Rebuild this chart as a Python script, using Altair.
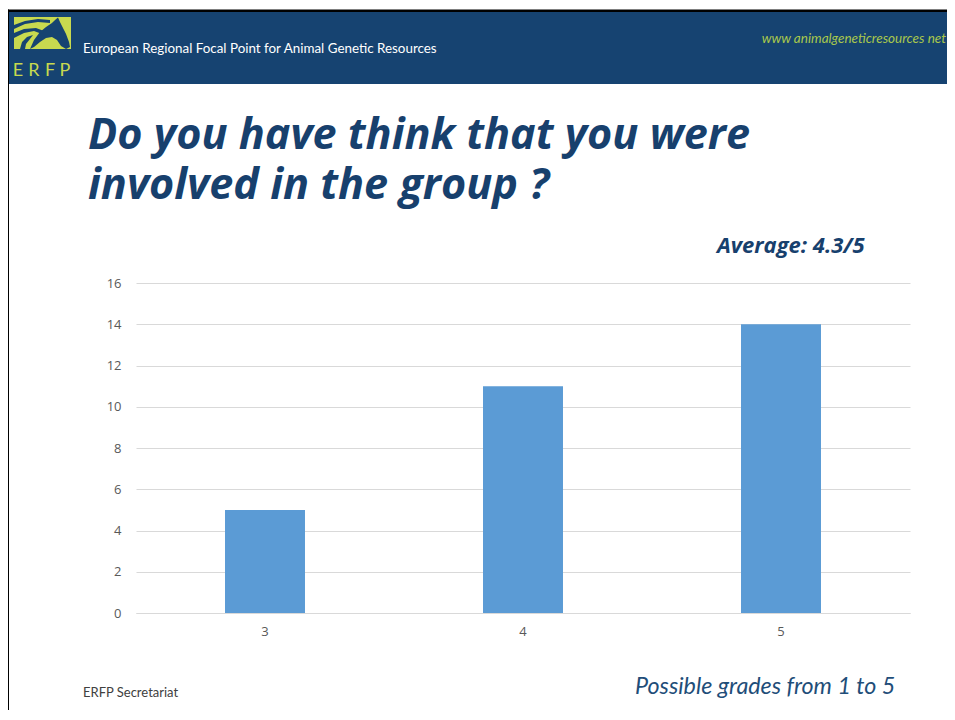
import altair as alt
import pandas as pd

grades = ["3", "4", "5"]
counts = [5, 11, 14]
y_ticks = [0, 2, 4, 6, 8, 10, 12, 14, 16]

title_lines = ["Do you have think that you were", "involved in the group ?"]
header_text = "European Regional Focal Point for Animal Genetic Resources"
url_text = "www animalgeneticresources net"
average_text = "Average: 4.3/5"
note_text = "Possible grades from 1 to 5"
footer_text = "ERFP Secretariat"
logo_letters = ["E", "R", "F", "P"]

W, H = 774, 330
X0, Y0 = 136, 283  # page position of plot origin

def px(v):
    return v - X0

def py(v):
    return v - Y0

df = pd.DataFrame({"grade": grades, "count": counts})
one = alt.Data(values=[{}])

bars = alt.Chart(df).mark_bar(color="#5b9bd5").encode(
    x=alt.X("grade:N", sort=grades,
            scale=alt.Scale(paddingInner=0.69, paddingOuter=0.345),
            axis=alt.Axis(title=None, labelAngle=0, ticks=False, domain=True,
                          domainColor="#d9d9d9", labelPadding=12,
                          labelFontSize=13, labelColor="#595959",
                          labelFont="Open Sans", grid=False)),
    y=alt.Y("count:Q", scale=alt.Scale(domain=[0, 16], nice=False),
            axis=alt.Axis(title=None, values=y_ticks, ticks=False, domain=False,
                          gridColor="#d9d9d9", labelPadding=15,
                          labelFontSize=13, labelColor="#595959",
                          labelFont="Open Sans")),
)

def rect(x1, x2, y1, y2, color):
    return alt.Chart(one).mark_rect(color=color).encode(
        x=alt.value(px(x1)), x2=alt.value(px(x2)),
        y=alt.value(py(y1)), y2=alt.value(py(y2)))

def text(t, x, y, size, color, font="Open Sans", weight="normal", style="normal",
         align="left", baseline="alphabetic", **kw):
    return alt.Chart(one).mark_text(
        text=t, fontSize=size, color=color, font=font, fontWeight=weight,
        fontStyle=style, align=align, baseline=baseline, **kw).encode(
        x=alt.value(px(x)), y=alt.value(py(y)))

# logo silhouettes (decoration), drawn as custom symbol paths
LCX, LCY, LH = 42.5, 33.0, 28.5
def logo_shape(points):
    pts = [((x - LCX) / LH, (y - LCY) / LH) for x, y in points]
    d = "M" + " L".join(f"{u:.3f},{v:.3f}" for u, v in pts) + " Z"
    return alt.Chart(one).mark_point(
        shape=d, size=(2 * LH) ** 2, filled=True, color="#164371",
        opacity=1, strokeWidth=0).encode(
        x=alt.value(px(LCX)), y=alt.value(py(LCY)))

head = [(55, 20), (58, 17.5), (60, 22), (62, 26), (66, 34), (69, 42), (70, 47),
        (66, 49), (61, 46), (57, 40), (52, 37), (46, 38), (40, 42), (34, 47),
        (30, 49), (34, 40), (40, 32), (46, 27), (52, 23)]
stripe1 = [(14, 25), (25, 21), (38, 19), (50, 20), (50, 23), (38, 22), (25, 24), (14, 29)]
stripe2 = [(14, 33), (24, 29), (36, 28), (44, 31), (42, 34), (34, 31), (24, 33), (14, 38)]
stripe3 = [(20, 49), (22, 42), (27, 37), (33, 35), (30, 39), (26, 44), (25, 49)]

layers = [
    rect(9, 960, 12, 84, "#164371"),
    rect(7, 960, 9.5, 12, "#000000"),
    rect(7, 9, 9.5, 730, "#000000"),
    rect(14, 71, 17, 49, "#c8d94f"),
    logo_shape(head), logo_shape(stripe1), logo_shape(stripe2), logo_shape(stripe3),
    text(header_text, 83, 53, 13.4, "#ffffff", font="Lato"),
    text(url_text, 946, 43, 13.5, "#a9c84c", font="Lato", style="italic", align="right"),
    text(title_lines, 88, 149, 43.2, "#17406d", weight="bold", style="italic",
         lineHeight=50),
    text(average_text, 717, 253, 22, "#17406d", weight="bold", style="italic"),
    text(note_text, 635, 694, 23.3, "#1f4e79", font="Lato", style="italic"),
    text(footer_text, 83, 697, 13, "#404040", font="Lato"),
]
for i, (ch, lx) in enumerate(zip(logo_letters, [18, 34, 50, 65])):
    layers.append(text(ch, lx, 76, 18, "#c8d94f", font="Lato", align="center"))

chart = alt.layer(bars, *layers).properties(
    width=W, height=H, background="#ffffff",
    padding={"left": 128, "top": 275, "right": 37, "bottom": 97},
    autosize=alt.AutoSizeParams(type="none"),
).configure_view(strokeWidth=0)

chart.save("out.html", embed_options={"renderer": "svg", "actions": False})
